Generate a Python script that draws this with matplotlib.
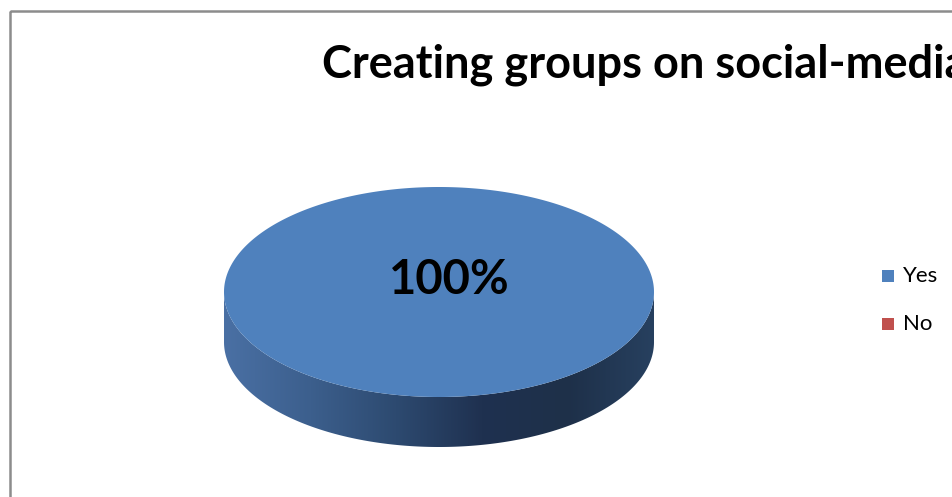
import numpy as np
import matplotlib.pyplot as plt
from matplotlib.patches import Polygon, Rectangle
from matplotlib.colors import LinearSegmentedColormap

title = "Creating groups on social-media"
labels = ["Yes", "No"]
values = [100, 0]
colors = ["#4f81bd", "#c0504d"]

W, H = 952, 497
fig = plt.figure(figsize=(W / 100, H / 100), dpi=100)
ax = fig.add_axes([0, 0, 1, 1])
ax.set_xlim(0, W)
ax.set_ylim(H, 0)
ax.axis("off")

# chart frame (right/bottom edges fall outside the image)
ax.add_patch(Rectangle((10, 11), 1000, 600, fill=False, ec="#8c8c8c", lw=1.8))

ax.text(322, 65, title, fontsize=32.5, fontweight="bold", family="Lato",
        va="center", ha="left", color="black")

# 3-D pie geometry
cx, cy = 439, 292
rx, ry = 215, 105
depth = 50

total = sum(values)
start = 90.0
side_cmap = LinearSegmentedColormap.from_list(
    "side", ["#4a70a4", "#3c5f8d", "#2d4a70", "#1f3150", "#1e3049", "#27405f"])

for lab, val, col in zip(labels, values, colors):
    if val <= 0:
        continue
    span = 360.0 * val / total
    th = np.radians(np.linspace(start, start - span, 400))
    # front rim band between the top ellipse and the shifted bottom ellipse
    ang = np.linspace(np.pi, 2 * np.pi, 400)
    xs = cx + rx * np.cos(ang)
    ys = cy - ry * np.sin(ang)
    upper = np.column_stack([xs, ys])
    lower = np.column_stack([xs[::-1], ys[::-1] + depth])
    side = Polygon(np.vstack([upper, lower]), closed=True, fc="none", ec="none")
    ax.add_patch(side)
    grad = np.linspace(0, 1, 256).reshape(1, -1)
    im = ax.imshow(grad, cmap=side_cmap, extent=[cx - rx, cx + rx, cy + ry + depth, cy],
                   aspect="auto", interpolation="bilinear", zorder=1)
    im.set_clip_path(side)
    # top face
    if span >= 360:
        pts = np.column_stack([cx + rx * np.cos(th), cy - ry * np.sin(th)])
    else:
        pts = np.vstack([[cx, cy], np.column_stack([cx + rx * np.cos(th), cy - ry * np.sin(th)])])
    ax.add_patch(Polygon(pts, closed=True, fc=col, ec="none", zorder=2))
    mid = np.radians(start - span / 2)
    off = 0 if span >= 360 else 0.55
    ax.text(cx + 10 + off * rx * np.cos(mid), cy - 12 - off * ry * np.sin(mid),
            f"{val}%", fontsize=34, fontweight="bold", family="Lato",
            ha="center", va="center", zorder=3)
    start -= span

# legend
for i, (lab, col) in enumerate(zip(labels, colors)):
    y = 276 + i * 48
    ax.add_patch(Rectangle((882, y - 6), 12, 12, fc=col, ec="none"))
    ax.text(903, y, lab, fontsize=16, family="Lato", va="center", ha="left")

fig.savefig("out.png", dpi=100)
